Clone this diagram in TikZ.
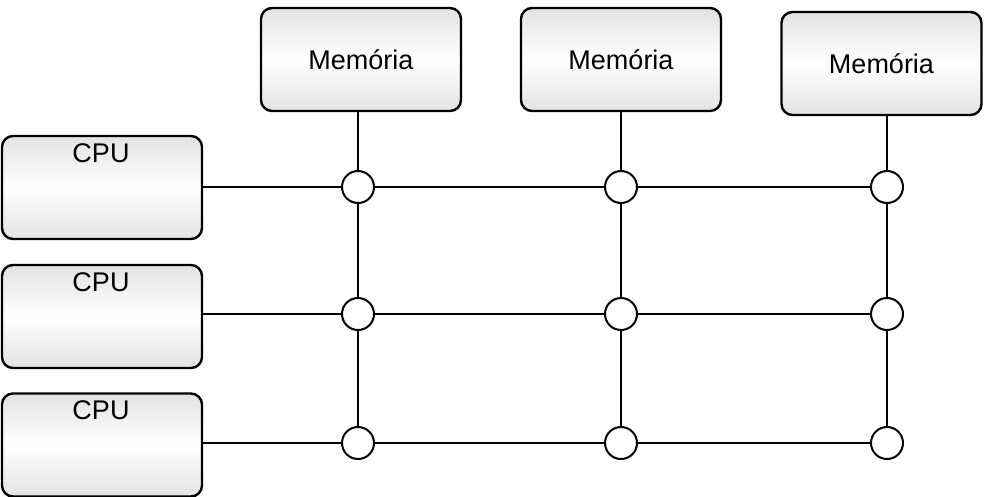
\documentclass[tikz,border=0pt]{standalone}
\usepackage{fontspec}
\setmainfont{Liberation Sans}
\begin{document}
\begin{tikzpicture}[x=1pt,y=-1pt,
  boxstyle/.style={draw=black, line width=2.4pt, rounded corners=11pt,
    top color=gray!22, bottom color=gray!22, middle color=white,
    minimum width=200pt, minimum height=103pt, inner sep=0pt},
  memtext/.style={font=\fontsize{27}{32}\selectfont},
  cputext/.style={font=\fontsize{27}{32}\selectfont, anchor=north, inner sep=0pt},
  junction/.style={circle, draw=black, line width=2pt, fill=white, minimum size=32pt, inner sep=0pt},
  wire/.style={line width=2pt}]
\useasboundingbox (0,0) rectangle (988,496);
% memory boxes
\node[boxstyle, memtext] (m1) at (361,59.5) {Memória};
\node[boxstyle, memtext] (m2) at (621,59.5) {Memória};
\node[boxstyle, memtext] (m3) at (881.5,63.5) {Memória};
% cpu boxes
\node[boxstyle] (p1) at (102,187.5) {};
\node[boxstyle] (p2) at (102,316.5) {};
\node[boxstyle] (p3) at (102,445) {};
\node[cputext] (t1) at (101,143) {CPU};
\node[cputext] (t2) at (101,272) {CPU};
\node[cputext] (t3) at (101,400) {CPU};
% junctions
\foreach \r/\y in {1/187,2/314,3/443}{
  \node[junction] (c\r1) at (358,\y) {};
  \node[junction] (c\r2) at (621,\y) {};
  \node[junction] (c\r3) at (887,\y) {};
}
% vertical wires
\draw[wire] (m1.south -| c11) -- (c11) -- (c21) -- (c31);
\draw[wire] (m2.south -| c12) -- (c12) -- (c22) -- (c32);
\draw[wire] (m3.south -| c13) -- (c13) -- (c23) -- (c33);
% horizontal wires
\draw[wire] (p1.east |- c11) -- (c11) -- (c12) -- (c13);
\draw[wire] (p2.east |- c21) -- (c21) -- (c22) -- (c23);
\draw[wire] (p3.east |- c31) -- (c31) -- (c32) -- (c33);
\end{tikzpicture}
\end{document}
